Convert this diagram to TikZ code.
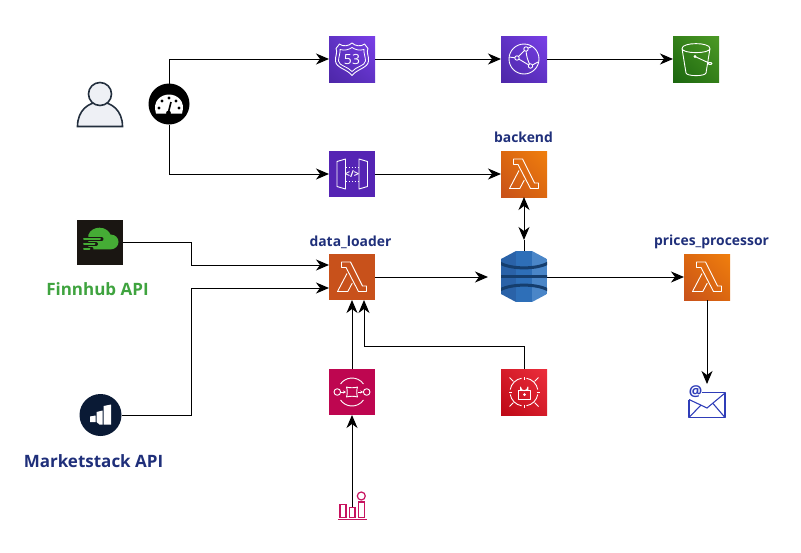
\documentclass[tikz,border=0pt]{standalone}
\usepackage{fontspec}
\setmainfont{Open Sans}
\usetikzlibrary{arrows.meta,calc,shadings}
\definecolor{navy}{HTML}{1F2F7A}
\definecolor{fgreen}{HTML}{3FA33F}
\definecolor{violet1}{HTML}{4D27A8}\definecolor{violet2}{HTML}{7A3FE8}\definecolor{violet3}{HTML}{5F32C4}
\definecolor{or1}{HTML}{C8511B}\definecolor{or2}{HTML}{F07F0E}\definecolor{or3}{HTML}{DC680F}
\definecolor{gr1}{HTML}{1B660F}\definecolor{gr2}{HTML}{4D9A26}\definecolor{gr3}{HTML}{348019}
\definecolor{pk}{HTML}{BE0650}
\definecolor{rd1}{HTML}{BD0816}\definecolor{rd2}{HTML}{EC2E3C}\definecolor{rd3}{HTML}{D51C29}
\definecolor{mcol}{HTML}{C7135F}
\definecolor{mail}{HTML}{2F3DB8}
\definecolor{ink}{HTML}{232F3E}
\definecolor{finnbg}{HTML}{1A1612}
\definecolor{finngreen}{HTML}{45AC35}
\definecolor{marknavy}{HTML}{0A1A35}
\definecolor{personfill}{HTML}{EEF0F5}
\definecolor{gwfill}{HTML}{5524B4}
\tikzset{
 x=1pt,y=-1pt,
 conn/.style={draw=black,line width=1pt,-{Stealth[length=13pt,width=11pt,inset=4pt]}},
 biconn/.style={draw=black,line width=1pt,{Stealth[length=13pt,width=11pt,inset=4pt]}-{Stealth[length=13pt,width=11pt,inset=4pt]}},
 plain/.style={draw=black,line width=1pt},
 awsbox/.style={rectangle,minimum size=46pt,inner sep=0pt,outer sep=0pt},
 boxviolet/.style={awsbox,lower left=violet1,upper right=violet2,lower right=violet3,upper left=violet3},
 boxorange/.style={awsbox,lower left=or1,upper right=or2,lower right=or3,upper left=or3},
 boxgreen/.style={awsbox,lower left=gr1,upper right=gr2,lower right=gr3,upper left=gr3},
 boxpink/.style={awsbox,fill=pk},
 boxred/.style={awsbox,lower left=rd1,upper right=rd2,lower right=rd3,upper left=rd3},
 ic/.style={draw=white,line width=0.9pt,line join=round,fill=none},
 lab/.style={font=\bfseries\fontsize{13.9}{16}\selectfont,text=navy,inner sep=0pt},
 biglab/.style={font=\bfseries\fontsize{17}{20}\selectfont,inner sep=0pt},
}
\newcommand\lambdaicon[1]{\begin{scope}[shift={(#1.north west)}]
 \draw[ic] (12.5,8)--(21.5,8)--(33.5,32)--(37.5,32)--(37.5,37.5)--(29.5,37.5)--(17,13.5)--(12.5,13.5)--cycle;
 \draw[ic] (18,19.5)--(8.5,37.5)--(18.8,37.5)--(23.3,29);
\end{scope}}
\begin{document}
\begin{tikzpicture}
\useasboundingbox (0,0) rectangle (801,552);
% boxes
\node[boxviolet] (r53) at (352,59) {};
\node[boxviolet] (cf) at (524,59) {};
\node[boxgreen] (s3) at (696,59) {};
\node[awsbox,fill=gwfill] (apigw) at (352,174) {};
\node[boxorange] (backend) at (524,174) {};
\node[awsbox,fill=or1] (loader) at (352,277) {};
\node[boxorange] (prices) at (707,277) {};
\node[boxpink] (sf) at (352,392) {};
\node[boxred] (sec) at (524,392) {};
\node[awsbox,minimum width=46pt,minimum height=45pt,fill=finnbg] (finn) at (100,242.5) {};
\node[circle,minimum size=41pt,inner sep=0pt,outer sep=0pt,fill=black] (gauge) at (169,104) {};
\node[circle,minimum size=42pt,inner sep=0pt,outer sep=0pt,fill=marknavy] (market) at (100.5,415) {};
\node[awsbox,minimum width=46pt,minimum height=51pt] (dyn) at (524,276.5) {};
\node[awsbox,minimum width=36pt,minimum height=25pt] (email) at (707,405) {};
\node[awsbox,minimum width=46pt,minimum height=46pt] (user) at (100,105) {};
\coordinate (metric) at (352,507);
\coordinate (dynin) at (488,277);
\coordinate (dyntop) at (524,240);
\coordinate (emailin) at (707,384);
\coordinate (sfin) at (352,415);
% labels
\node[lab] (lbackend) at (523.5,137.5) {backend};
\node[lab] (lloader) at (350.5,242) {data\_loader};
\node[lab] (lprices) at (711.5,242) {prices\_processor};
\node[biglab,text=fgreen] (lfinn) at (97.5,289) {Finnhub API};
\node[biglab,text=navy] (lmarket) at (93.5,461) {Marketstack API};
% connectors
\draw[conn] (gauge.north) |- (r53.west);
\draw[conn] (gauge.south) |- (apigw.west);
\draw[conn] (r53.east) -- (cf.west);
\draw[conn] (cf.east) -- (s3.west);
\draw[conn] (apigw.east) -- (backend.west);
\draw[conn] (finn.east) -- ++(68,0) |- ($(loader.west)+(0,-12)$);
\draw[conn] (market.east) -- ++(69.5,0) |- ($(loader.west)+(0,11)$);
\draw[conn] (loader.east) -- (dynin);
\draw[biconn] (backend.south) -- (dyntop);
\draw[plain] (dyntop) -- (dyn.north);
\draw[conn] (dyn.east |- prices.west) -- (prices.west);
\draw[conn] (prices.south) -- (emailin);
\draw[conn] (sf.north) -- (loader.south);
\draw[conn] (sec.north) -- ++(0,-23) -| ($(loader.south)+(12,0)$);
\draw[conn] (metric) -- (sfin);
% person
\begin{scope}[shift={(user.north west)}]
 \draw[draw=ink,fill=personfill,line width=1.6pt] (0.5,44.5) .. controls (0.5,28) and (12,20) .. (23,20) .. controls (34,20) and (45.5,28) .. (45.5,44.5) -- cycle;
 \draw[draw=ink,fill=personfill,line width=1.6pt] (23,12) circle (11.5);
\end{scope}
% gauge
\begin{scope}[shift={(gauge.center)}]
 \fill[white] (-13,9.5) .. controls (-17,-3) and (-8,-9.5) .. (0,-9.5) .. controls (8,-9.5) and (17,-3) .. (13,9.5) -- cycle;
 \foreach \p in {(-10,4),(-7,-3),(0,-6),(7,-3),(10,4)} \fill[black] \p circle (1.7);
 \fill[black] (-0.5,9) circle (2.4);
 \draw[black,line width=1.6pt] (-0.5,8) -- (2,-2);
\end{scope}
% route53
\begin{scope}[shift={(r53.north west)}]
 \draw[ic,line width=0.9pt] (23,7) .. controls (20,10) and (14,11) .. (10.5,8) -- (7,12.5) .. controls (9,16) and (6,20) .. (6.5,25) .. controls (7,32) and (18,33) .. (23,39.5) .. controls (28,33) and (39,32) .. (39.5,25) .. controls (40,20) and (37,16) .. (39,12.5) -- (35.5,8) .. controls (32,11) and (26,10) .. (23,7) -- cycle;
 \draw[ic,line width=0.8pt] (11,13.5) .. controls (16,15) and (20,13.5) .. (23,11.5) .. controls (26,13.5) and (30,15) .. (35,13.5) .. controls (34.5,17) and (36.5,21) .. (36.5,25) .. controls (36,30) and (27,30.5) .. (23,35.5) .. controls (19,30.5) and (10,30) .. (9.5,25) .. controls (9.5,21) and (11.5,17) .. (11,13.5) -- cycle;
 \node[text=white,inner sep=0pt,font=\fontsize{14}{15}\selectfont] (r53t) at (23,23) {53};
\end{scope}
% cloudfront
\begin{scope}[shift={(cf.north west)}]
 \draw[ic] (23,23) circle (15);
 \draw[ic] (16,22) -- (25,13) .. controls (25,20) and (27,25) .. (29.5,30) -- cycle;
 \draw[ic] (8,21) -- (16,22);
 \draw[ic] (25,13) -- (31,10.5);
 \draw[ic] (29.5,30) -- (37,26);
 \draw[ic,fill=violet3] (25,13) circle (2.2);
 \draw[ic,fill=violet3] (16,22) circle (2.2);
 \draw[ic,fill=violet3] (29.5,30) circle (2.2);
\end{scope}
% s3
\begin{scope}[shift={(s3.north west)}]
 \draw[ic] (9,12.5) .. controls (9,6) and (37,6) .. (37,12.5) .. controls (37,18) and (9,18) .. (9,12.5) -- (13,37) .. controls (14,40.5) and (32,40.5) .. (33,37) -- (37,12.5);
 \draw[ic] (22,20.5) -- (36,27);
 \draw[ic] (22,20.5) circle (1);
 \draw[ic] (37,27.5) ellipse (2 and 1);
\end{scope}
% api gateway
\begin{scope}[shift={(apigw.north west)}]
 \draw[ic] (8,10.5) -- (16.5,8) -- (16.5,38) -- (8,35.5) -- cycle;
 \draw[ic] (38.5,10.5) -- (30,8) -- (30,38) -- (38.5,35.5) -- cycle;
 \draw[ic,dotted,line width=0.9pt] (17,16) -- (29.5,16);
 \draw[ic,dotted,line width=0.9pt] (17,30) -- (29.5,30);
 \node[text=white,inner sep=0pt,font=\bfseries\fontsize{9.5}{10}\selectfont] (gwt) at (23,23) {</>};
\end{scope}
% lambdas
\lambdaicon{backend}
\lambdaicon{loader}
\lambdaicon{prices}
% finnhub
\begin{scope}[shift={(finn.north west)}]
 \fill[finngreen] (11.3,29.3) -- (11.3,15) .. controls (13,10) and (18,7.7) .. (22.5,7.7) .. controls (28,7.7) and (32,11) .. (33.5,14.5) .. controls (38.5,14.5) and (41.5,18) .. (41.5,22) .. controls (41.5,26) and (38,29.3) .. (34,29.3) -- cycle;
 \draw[finnbg,line width=4pt,line cap=round] (4,19.3) -- (24.5,19.3);
 \draw[finnbg,line width=4pt,line cap=round] (4,24) -- (19,24);
 \draw[finnbg,line width=4pt,line cap=round] (4,28.5) -- (14.5,28.5);
 \draw[finngreen,line width=2pt,line cap=round] (7,19.3) -- (23,19.3);
 \draw[finngreen,line width=2pt,line cap=round] (7,24) -- (17.5,24);
 \draw[finngreen,line width=2pt,line cap=round] (7,28.5) -- (12.5,28.5);
\end{scope}
% marketstack
\begin{scope}[shift={(market.center)}]
 \fill[white] (3,-9) -- (10.5,-10.5) -- (10.5,9.5) -- (3,9.5) -- cycle;
 \fill[white] (-4,-3) -- (2,-4.5) -- (2,9.5) -- (-1,9.5) -- (-4,7) -- cycle;
 \fill[white] (-10.5,1.5) -- (-5,0.5) -- (-5,7) -- (-10.5,7) -- cycle;
\end{scope}
% dynamodb
\begin{scope}[shift={(dyn.north west)}]
 \path[clip] (15,0) -- (31,0) -- (46,8) -- (46,43) -- (31,51) -- (15,51) -- (0,43) -- (0,8) -- cycle;
 \definecolor{dbA}{HTML}{2A62A8}\definecolor{dbB}{HTML}{2E6FB8}\definecolor{dbC}{HTML}{4A86C8}\definecolor{dbD}{HTML}{153E6E}
 \fill[dbA] (0,0) rectangle (15,51);
 \fill[dbB] (15,0) rectangle (31,51);
 \fill[dbC] (31,0) rectangle (46,51);
 \draw[dbD,line width=3pt] (-1,12) .. controls (10,18.5) and (36,18.5) .. (47,12);
 \draw[dbD,line width=3pt] (-1,39) .. controls (10,32.5) and (36,32.5) .. (47,39);
 \draw[dbD,line width=3pt] (-1,25.5) -- (47,25.5);
\end{scope}
% step functions
\begin{scope}[shift={(sf.north west)}]
 \draw[ic] (23,23) ++(35:14) arc (35:145:14);
 \draw[ic] (23,23) ++(-35:14) arc (-35:-145:14);
 \draw[ic] (8.3,23) circle (3.3);
 \draw[ic] (37.7,23) circle (3.3);
 \draw[ic] (17.5,18) .. controls (20,19) and (26,19) .. (28.5,18) .. controls (27.5,21) and (27.5,25) .. (28.5,28) .. controls (26,27) and (20,27) .. (17.5,28) .. controls (18.5,25) and (18.5,21) .. (17.5,18) -- cycle;
 \draw[ic,-{Stealth[length=3pt,width=3pt]}] (11.8,23) -- (17,23);
 \draw[ic,-{Stealth[length=3pt,width=3pt]}] (29,23) -- (34.2,23);
\end{scope}
% secrets
\begin{scope}[shift={(sec.north west)}]
 \foreach \a in {10,100,190,280} \draw[ic] (23,23) ++(\a:14) arc (\a:\a+70:14);
 \foreach \a in {0,90,180,270} {\draw[ic,line width=0.8pt] (23,23) ++(\a:12.5) -- ++(\a:3);}
 \foreach \a in {45,135,225,315} \draw[ic] (23,23) ++(\a:15) -- ++(\a:5.5);
 \draw[ic] (17,21.5) rectangle (29.5,30);
 \draw[ic] (19.5,21.5) -- (19.5,18) arc (180:0:3.7) -- (27,21.5);
 \fill[white] (23.5,25.5) circle (1.5);
\end{scope}
% email
\begin{scope}[shift={(email.north west)}]
 \draw[mail,line width=1.1pt,line join=round] (13,0) -- (36,0) -- (36,25) -- (0,25) -- (0,7);
 \draw[mail,line width=1.1pt] (0,7) -- (18,15.5) -- (36,0.5);
 \draw[mail,line width=1.1pt] (0,25) -- (12,12.5);
 \draw[mail,line width=1.1pt] (36,25) -- (24,11);
 \node[text=mail,inner sep=0pt,font=\bfseries\fontsize{15}{16}\selectfont] (mat) at (6.5,-0.5) {@};
\end{scope}
% metric
\draw[mcol,line width=1.2pt] (340,504.5) rectangle (346,517.5);
\draw[mcol,line width=1.2pt] (349.5,507.5) rectangle (355,517.5);
\draw[mcol,line width=1.2pt] (358.7,502) rectangle (364.3,517.5);
\draw[mcol,line width=1.2pt] (361.3,496) circle (4);
\draw[mcol,line width=1.2pt] (338,519.7) -- (367,519.7);
\end{tikzpicture}
\end{document}
